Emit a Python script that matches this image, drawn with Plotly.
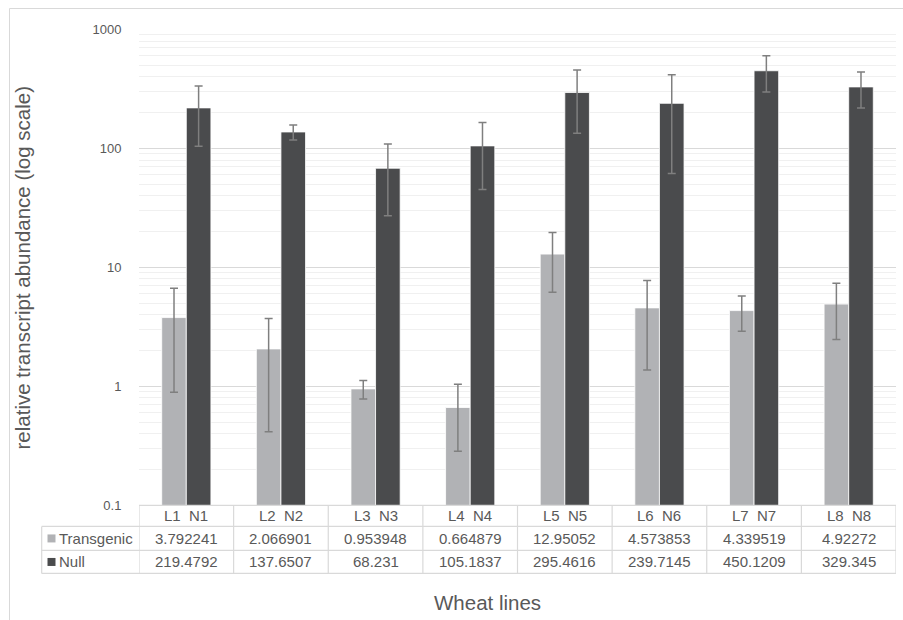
import plotly.graph_objects as go

# ---- data ----
line_ids = ["L1", "L2", "L3", "L4", "L5", "L6", "L7", "L8"]
null_ids = ["N1", "N2", "N3", "N4", "N5", "N6", "N7", "N8"]
transgenic = [3.792241, 2.066901, 0.953948, 0.664879, 12.95052, 4.573853, 4.339519, 4.92272]
null = [219.4792, 137.6507, 68.231, 105.1837, 295.4616, 239.7145, 450.1209, 329.345]
transgenic_err = [2.9, 1.65, 0.17, 0.38, 6.75, 3.2, 1.43, 2.44]
null_err = [115, 20, 41, 60, 161, 178, 152, 110]
series_names = ["Transgenic", "Null"]
y_tickvals = [0.1, 1, 10, 100, 1000]
y_ticktext = ["0.1", "1", "10", "100", "1000"]

categories = [f"{a}\u00a0\u00a0{b}" for a, b in zip(line_ids, null_ids)]

W, H = 903, 620
C_LIGHT = "#b1b2b5"
C_DARK = "#4a4b4d"
TXT = "#595959"
GRID = "#d9d9d9"
FONT = "Liberation Sans, Arial, sans-serif"

# vertical placement helper (target pixel rows -> paper coordinates)
V_OFF, V_SCALE = 8, 0.975


def px(x):
    return x / W


def py(y):
    return 1 - (y - V_OFF) / (H * V_SCALE)


PLOT_L, PLOT_R, PLOT_T, PLOT_B = 139, 896, 30.5, 506
ROW_LINES = [527, 551, 574]
LEFT_COL = 41.7

fig = go.Figure()
fig.add_trace(go.Bar(
    x=categories, y=transgenic, name=series_names[0],
    marker=dict(color=C_LIGHT, line=dict(color="white", width=0.8)),
    error_y=dict(type="data", array=transgenic_err, visible=True,
                 color="#7f7f7f", thickness=1.5, width=4),
    showlegend=False,
))
fig.add_trace(go.Bar(
    x=categories, y=null, name=series_names[1],
    marker=dict(color=C_DARK, line=dict(color="white", width=0.8)),
    error_y=dict(type="data", array=null_err, visible=True,
                 color="#7f7f7f", thickness=1.5, width=4),
    showlegend=False,
))

shapes = []
# outer chart border
shapes.append(dict(type="rect", xref="paper", yref="paper",
                   x0=px(9.5), x1=px(W + 20), y0=py(9.5), y1=py(H + 40),
                   line=dict(color=GRID, width=1), layer="below"))
# table horizontal lines
shapes.append(dict(type="line", xref="paper", yref="paper",
                   x0=px(PLOT_L), x1=px(PLOT_R), y0=py(PLOT_B), y1=py(PLOT_B),
                   line=dict(color=GRID, width=1.2)))
for yl in ROW_LINES:
    shapes.append(dict(type="line", xref="paper", yref="paper",
                       x0=px(LEFT_COL), x1=px(PLOT_R), y0=py(yl), y1=py(yl),
                       line=dict(color=GRID, width=1.2)))
# table vertical lines
shapes.append(dict(type="line", xref="paper", yref="paper",
                   x0=px(LEFT_COL), x1=px(LEFT_COL), y0=py(ROW_LINES[0]), y1=py(ROW_LINES[-1]),
                   line=dict(color=GRID, width=1.2)))
for i in range(len(categories) + 1):
    shapes.append(dict(type="line", xref="x", yref="paper",
                       x0=i - 0.5, x1=i - 0.5, y0=py(PLOT_B), y1=py(ROW_LINES[-1]),
                       line=dict(color=GRID, width=1.2)))
# legend keys in table
row_centers = [(PLOT_B + ROW_LINES[0]) / 2, (ROW_LINES[0] + ROW_LINES[1]) / 2,
               (ROW_LINES[1] + ROW_LINES[2]) / 2]
for rc, col in zip(row_centers[1:], [C_LIGHT, C_DARK]):
    shapes.append(dict(type="rect", xref="paper", yref="paper",
                       x0=px(47.5), x1=px(55.5), y0=py(rc + 4), y1=py(rc - 4),
                       fillcolor=col, line=dict(width=0)))

annotations = []
tfont = dict(family=FONT, size=15, color=TXT)
for i, cat in enumerate(categories):
    annotations.append(dict(x=cat, xref="x", y=py(row_centers[0]), yref="paper",
                            text=cat, showarrow=False, font=tfont,
                            xanchor="center", yanchor="middle"))
    annotations.append(dict(x=cat, xref="x", y=py(row_centers[1]), yref="paper",
                            text=str(transgenic[i]), showarrow=False, font=tfont,
                            xanchor="center", yanchor="middle"))
    annotations.append(dict(x=cat, xref="x", y=py(row_centers[2]), yref="paper",
                            text=str(null[i]), showarrow=False, font=tfont,
                            xanchor="center", yanchor="middle"))
for rc, name in zip(row_centers[1:], series_names):
    annotations.append(dict(x=px(57), xref="paper", y=py(rc), yref="paper",
                            text=name, showarrow=False, font=tfont,
                            xanchor="left", yanchor="middle"))
# axis titles
annotations.append(dict(x=px(22), xref="paper", y=py((PLOT_T + PLOT_B) / 2), yref="paper",
                        text="relative transcript abundance (log scale)", textangle=-90,
                        showarrow=False, font=dict(family=FONT, size=20.5, color=TXT),
                        xanchor="center", yanchor="middle"))
annotations.append(dict(x=px(487), xref="paper", y=py(603), yref="paper",
                        text="Wheat lines", showarrow=False,
                        font=dict(family=FONT, size=20.5, color=TXT),
                        xanchor="center", yanchor="middle"))

fig.update_layout(
    width=W, height=H,
    margin=dict(l=0, r=0, t=0, b=0),
    paper_bgcolor="white", plot_bgcolor="white",
    barmode="group", bargap=0.48, bargroupgap=0,
    font=dict(family=FONT, color=TXT),
    shapes=shapes, annotations=annotations,
    xaxis=dict(domain=[px(PLOT_L), px(PLOT_R)], showticklabels=False,
               showgrid=False, zeroline=False, showline=False, ticks="",
               range=[-0.5, len(categories) - 0.5]),
    yaxis=dict(domain=[py(PLOT_B), py(PLOT_T)], type="log", range=[-1, 3],
               tickvals=y_tickvals, ticktext=y_ticktext,
               tickfont=dict(family=FONT, size=13, color=TXT),
               showgrid=True, gridcolor=GRID, gridwidth=1.2,
               minor=dict(showgrid=True, gridcolor="#f0f0f0", gridwidth=1.2, dtick="D1", ticks=""),
               zeroline=False, showline=False,
               ticks="outside", ticklen=14, tickcolor="rgba(0,0,0,0)"),
)

fig.write_html(
    "out.html",
    config={"displayModeBar": False},
    post_script=(
        "var d=document.getElementById('{plot_id}');"
        "d.style.position='fixed';d.style.left='0px';d.style.top='0px';"
        "document.body.style.margin='0';"
        "document.documentElement.style.overflow='hidden';"
        "document.body.style.overflow='hidden';"
    ),
)
